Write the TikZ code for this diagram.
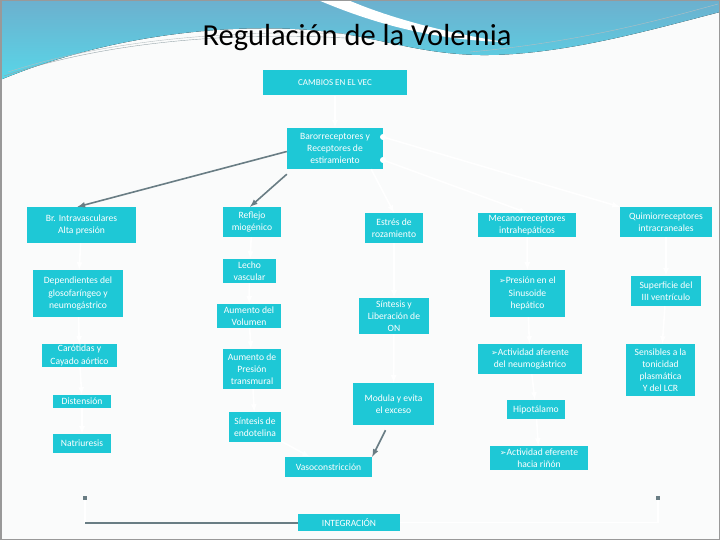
\documentclass[tikz,border=0pt]{standalone}
\usepackage{fontspec}
\setmainfont{Carlito}
\newfontfamily\dingfont{DejaVu Sans}
\usepackage{tikz}
\usetikzlibrary{arrows,positioning}

\definecolor{boxcyan}{RGB}{30,200,214}
\definecolor{waveblue}{RGB}{108,176,206}
\definecolor{wavecyan}{RGB}{88,214,232}
\definecolor{linegray}{RGB}{105,125,132}
\definecolor{slidebg}{RGB}{250,251,251}
\newcommand{\flecha}{{\dingfont\fontsize{8}{8}\selectfont ➢}}

\begin{document}
\begin{tikzpicture}
                [
                    x=1pt, y=-1pt,
                    vbox/.style={rectangle, fill=boxcyan, text=white, align=center, inner sep=1pt, font=\fontsize{9.6}{12.2}\selectfont},
                    wline/.style={draw=white, line width=1.6pt, -latex},
                    gline/.style={draw=linegray, line width=1.6pt, -latex},
                ]
                \useasboundingbox (0,0) rectangle (720,540);
                \fill[slidebg] (0,0) rectangle (720,540);

                % top wave
                \fill[top color=waveblue, bottom color=wavecyan] (0,0) -- (720,0) -- (720,12) .. controls (650,30) and (560,56) .. (480,55) .. controls (420,54) and (380,38) .. (330,32) .. controls (250,22) and (120,30) .. (0,80) -- cycle;
                \fill[white] (318,0) -- (348,0) .. controls (385,16) and (440,32) .. (505,42) .. controls (430,40) and (370,22) .. (318,0) -- cycle;
                \draw[linegray!70, thin] (4,76) .. controls (110,40) and (240,32) .. (345,38);
                \draw[linegray!50, thin] (8,72) .. controls (120,36) and (250,30) .. (350,34);
                \draw[linegray!50, thin] (470,52) .. controls (580,42) and (660,20) .. (718,4);
                \draw[gray!80, line width=1.5pt] (0.75,0.75) rectangle (719.25,539.25);

                \node [font=\fontsize{30.5}{32}\selectfont] (title) at (357,38) {Regulación de la Volemia};

                \node [vbox, minimum width=144pt, minimum height=25pt, font=\fontsize{9}{10}\selectfont] (cambios) at (335,83) {CAMBIOS EN EL VEC};
                \node [vbox, minimum width=96pt, minimum height=41pt] (baro) at (335,148.5) {Barorreceptores y\\Receptores de\\estiramiento};

                \node [vbox, minimum width=109pt, minimum height=36pt] (brintra) at (81.5,225) {Br. Intravasculares\\Alta presión};
                \node [vbox, minimum width=90pt, minimum height=47pt] (depend) at (78,293.5) {Dependientes del\\glosofaríngeo y\\neumogástrico};
                \node [vbox, minimum width=75pt, minimum height=23pt] (carot) at (79.5,355.5) {Carótidas y\\Cayado aórtico};
                \node [vbox, minimum width=58pt, minimum height=13pt] (distens) at (82,401.5) {Distensión};
                \node [vbox, minimum width=58pt, minimum height=19pt] (natri) at (82,443.5) {Natriuresis};

                \node [vbox, minimum width=58pt, minimum height=30pt] (reflejo) at (252,222) {Reflejo\\miogénico};
                \node [vbox, minimum width=53pt, minimum height=24pt] (lecho) at (249.5,271) {Lecho\\vascular};
                \node [vbox, minimum width=64pt, minimum height=24pt] (aumvol) at (249,316) {Aumento del\\Volumen};
                \node [vbox, minimum width=58pt, minimum height=40pt] (aumpres) at (252,369) {Aumento de\\Presión\\transmural};
                \node [vbox, minimum width=52pt, minimum height=30pt] (sintend) at (255,427) {Síntesis de\\endotelina};
                \node [vbox, minimum width=87pt, minimum height=20pt] (vaso) at (328.5,467) {Vasoconstricción};

                \node [vbox, minimum width=58pt, minimum height=30pt] (estres) at (394,228) {Estrés de\\rozamiento};
                \node [vbox, minimum width=70pt, minimum height=36pt] (sinton) at (394,316) {Síntesis y\\Liberación de\\ON};
                \node [vbox, minimum width=81pt, minimum height=42pt] (modula) at (393.5,404) {Modula y evita\\el exceso};

                \node [vbox, minimum width=98pt, minimum height=24pt] (mecano) at (527,225) {Mecanorreceptores\\intrahepáticos};
                \node [vbox, minimum width=75pt, minimum height=47pt] (presion) at (527.5,293.5) {\flecha Presión en el\\Sinusoide\\hepático};
                \node [vbox, minimum width=104pt, minimum height=30pt] (aferente) at (530,359) {\flecha Actividad aferente\\del neumogástrico};
                \node [vbox, minimum width=58pt, minimum height=19pt] (hipot) at (536,409.5) {Hipotálamo};
                \node [vbox, minimum width=98pt, minimum height=24pt] (eferente) at (539,458) {\flecha Actividad eferente\\hacia riñón};

                \node [vbox, minimum width=92pt, minimum height=30pt] (quimio) at (666,222) {Quimiorreceptores\\intracraneales};
                \node [vbox, minimum width=70pt, minimum height=30pt] (superf) at (666,291) {Superficie del\\III ventrículo};
                \node [vbox, minimum width=69pt, minimum height=52pt] (sensib) at (660.5,370) {Sensibles a la\\tonicidad\\plasmática\\Y del LCR};

                \node [vbox, minimum width=102pt, minimum height=17pt, font=\fontsize{9.5}{10}\selectfont] (integ) at (349,522.5) {INTEGRACIÓN};

                \coordinate (bdot1) at (383,137);
                \coordinate (bdot2) at (383,160);
                \coordinate (ldot) at (85,498);
                \coordinate (rdot) at (658,498);
                \coordinate (lcorner) at (85,522.5);

                \draw[wline] (cambios) -- (baro);
                \draw[wline] (bdot1) -- (quimio.north west);
                \draw[wline] (bdot2) -- (mecano.north);
                \draw[wline] (baro.south east) ++(-12,0) -- (estres.north);
                \fill[white] (bdot1) circle (3pt) (bdot2) circle (3pt);

                \draw[gline] (baro.west) ++(0,3) -- ([xshift=-4pt]brintra.north);
                \draw[gline] ([yshift=-5pt]baro.south west) -- ([xshift=-2pt]reflejo.north);
                \draw[gline] ([xshift=-8pt, yshift=-5pt]modula.south) -- (vaso.north east);

                \draw[wline] (brintra) -- (depend);
                \draw[wline] (depend) -- (carot);
                \draw[wline] (carot) -- (distens);
                \draw[wline] (distens) -- (natri);

                \draw[wline] (reflejo) -- (lecho);
                \draw[wline] (lecho) -- (aumvol);
                \draw[wline] (aumvol) -- (aumpres);
                \draw[wline] (aumpres) -- (sintend);
                \draw[wline] (sintend) -- (vaso);

                \draw[wline] (estres) -- (sinton);
                \draw[wline] (sinton) -- (modula);

                \draw[wline] (mecano) -- (presion);
                \draw[wline] (presion) -- (aferente);
                \draw[wline] (aferente) -- (hipot);
                \draw[wline] (hipot) -- (eferente);

                \draw[wline] (quimio) -- (superf);
                \draw[wline] (superf) -- (sensib);

                \draw[draw=white, line width=1.6pt] (ldot) -- (lcorner);
                \draw[draw=linegray, line width=2pt] (lcorner) -- (integ.west);
                \draw[draw=white, line width=1.6pt] (rdot) |- (integ.east);
                \fill[linegray] (ldot) ++(-2,-2) rectangle ++(4,4);
                \fill[linegray] (rdot) ++(-2,-2) rectangle ++(4,4);

            \end{tikzpicture}
\end{document}
